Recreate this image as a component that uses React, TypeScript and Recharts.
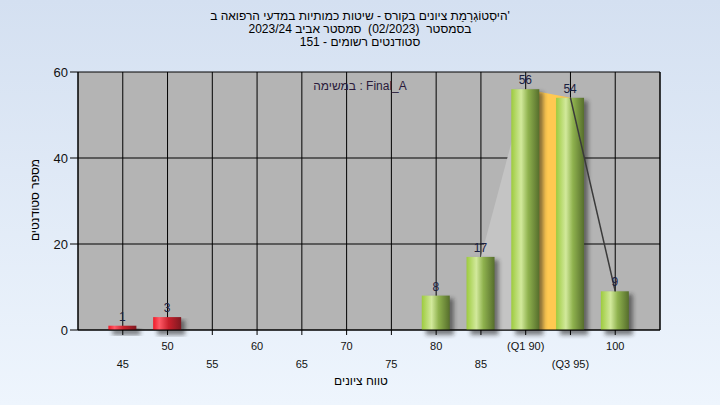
import { Area, Bar, CartesianGrid, ComposedChart, LabelList, Line, XAxis, YAxis } from 'recharts';

const grades = [45, 50, 55, 60, 65, 70, 75, 80, 85, 90, 95, 100];
const counts = [1, 3, 0, 0, 0, 0, 0, 8, 17, 56, 54, 9];
const tickLabels = ['45', '50', '55', '60', '65', '70', '75', '80', '85', '(Q1 90)', '(Q3 95)', '100'];
const yTicks = [0, 20, 40, 60];
const passGrade = 55;
const q1 = 90;
const q3 = 95;

const titleLines = [
  "היסְטוֹגְרָמַת ציונים בקורס - שיטות כמותיות במדעי הרפואה ב'",
  'בסמסטר  (02/2023)  סמסטר אביב 2023/24',
  'סטודנטים רשומים - 151',
];

const rows = grades.map((g, i) => ({ grade: g, count: counts[i] }));
const pick = (a: number, b: number) => rows.filter((r) => r.grade === a || r.grade === b);
const riseBand = pick(q1 - 5, q1);
const iqrBand = pick(q1, q3);
const fallLine = pick(q3, q3 + 5);

const font = '"Liberation Sans", Arial, sans-serif';

function CylBar(props: any) {
  const { x, y, width, height, payload } = props;
  if (!height || height <= 0) return null;
  const fail = payload.grade < passGrade;
  return (
    <g>
      <rect x={x + 4} y={y + 3} width={width} height={height + 2} fill="#202020" opacity={0.55} filter="url(#shadowBlur)" />
      <rect x={x} y={y} width={width} height={height} fill={fail ? 'url(#redCyl)' : 'url(#greenCyl)'} />
    </g>
  );
}

function XTick(props: any) {
  const { x, y, payload } = props;
  const i = grades.indexOf(payload.value);
  const second = payload.value % 10 !== 0;
  return (
    <text x={x} y={y + (second ? 31 : 13)} textAnchor="middle" fontSize={11} fill="#111" fontFamily={font}>
      {tickLabels[i]}
    </text>
  );
}

function ValueLabel(props: any) {
  const { x, y, width, value } = props;
  if (!value) return null;
  return (
    <text x={x + width / 2} y={y - 5} textAnchor="middle" fontSize={12} fill="#1a2040" fontFamily={font}>
      {value}
    </text>
  );
}

export default function App() {
  return (
    <div
      style={{
        position: 'absolute',
        left: 0,
        top: 0,
        width: 720,
        height: 405,
        background: 'linear-gradient(#d4e0f1, #eef5fd)',
        fontFamily: font,
        overflow: 'hidden',
      }}
    >
      <div style={{ position: 'absolute', top: 10, left: 0, width: 720, textAlign: 'center', fontSize: 12, lineHeight: '13px', color: '#000', whiteSpace: 'pre' }}>
        {titleLines.map((t) => (
          <div key={t}>{t}</div>
        ))}
      </div>

      <ComposedChart width={720} height={405} data={rows} margin={{ top: 72, right: 20, bottom: 35, left: 28 }}>
        <defs>
          <linearGradient id="greenCyl" x1="0" y1="0" x2="1" y2="0">
            <stop offset="0%" stopColor="#9dcb3e" />
            <stop offset="35%" stopColor="#d2e99c" />
            <stop offset="60%" stopColor="#8fb24e" />
            <stop offset="100%" stopColor="#566e2c" />
          </linearGradient>
          <linearGradient id="redCyl" x1="0" y1="0" x2="1" y2="0">
            <stop offset="0%" stopColor="#f01a28" />
            <stop offset="22%" stopColor="#ff5a66" />
            <stop offset="55%" stopColor="#c8202c" />
            <stop offset="100%" stopColor="#7e1820" />
          </linearGradient>
          <filter id="shadowBlur" x="-50%" y="-10%" width="200%" height="120%">
            <feGaussianBlur stdDeviation="2" />
          </filter>
        </defs>
        <CartesianGrid stroke="#000" fill="#b4b4b4" strokeOpacity={1} />
        <XAxis
          dataKey="grade"
          type="number"
          domain={[40, 105]}
          ticks={grades}
          interval={0}
          tick={<XTick />}
          tickSize={5}
          stroke="#000"
          height={40}
        />
        <YAxis
          domain={[0, 60]}
          ticks={yTicks}
          width={50}
          stroke="#000"
          tickSize={8}
          tick={{ fill: '#111', fontSize: 13, fontFamily: font }}
        />
        <YAxis
          yAxisId="right"
          orientation="right"
          domain={[0, 60]}
          ticks={yTicks}
          width={40}
          stroke="#000"
          tickSize={8}
          tick={{ fill: '#111', fontSize: 13, fontFamily: font }}
        />
        <Area data={riseBand} dataKey="count" type="linear" fill="#c4c4c4" fillOpacity={1} stroke="none" isAnimationActive={false} />
        <Area data={iqrBand} dataKey="count" type="linear" fill="#ffc951" fillOpacity={1} stroke="none" isAnimationActive={false} />
        <Line data={fallLine} dataKey="count" type="linear" stroke="#3a3a3a" strokeWidth={1.5} dot={false} isAnimationActive={false} />
        <Bar dataKey="count" barSize={28} shape={<CylBar />} isAnimationActive={false}>
          <LabelList dataKey="count" content={<ValueLabel />} />
        </Bar>
      </ComposedChart>

      <div style={{ position: 'absolute', top: 79, left: 0, width: 720, textAlign: 'center', fontSize: 12, color: '#2a1a3a' }}>
        במשימה : Final_A
      </div>
      <div
        style={{
          position: 'absolute',
          left: 35,
          top: 200,
          transform: 'translate(-50%, -50%) rotate(-90deg)',
          fontSize: 12,
          whiteSpace: 'nowrap',
          color: '#000',
        }}
      >
        מספר סטודנטים
      </div>
      <div style={{ position: 'absolute', top: 374, left: 0, width: 722, textAlign: 'center', fontSize: 12, color: '#000' }}>
        טווח ציונים
      </div>
    </div>
  );
}
